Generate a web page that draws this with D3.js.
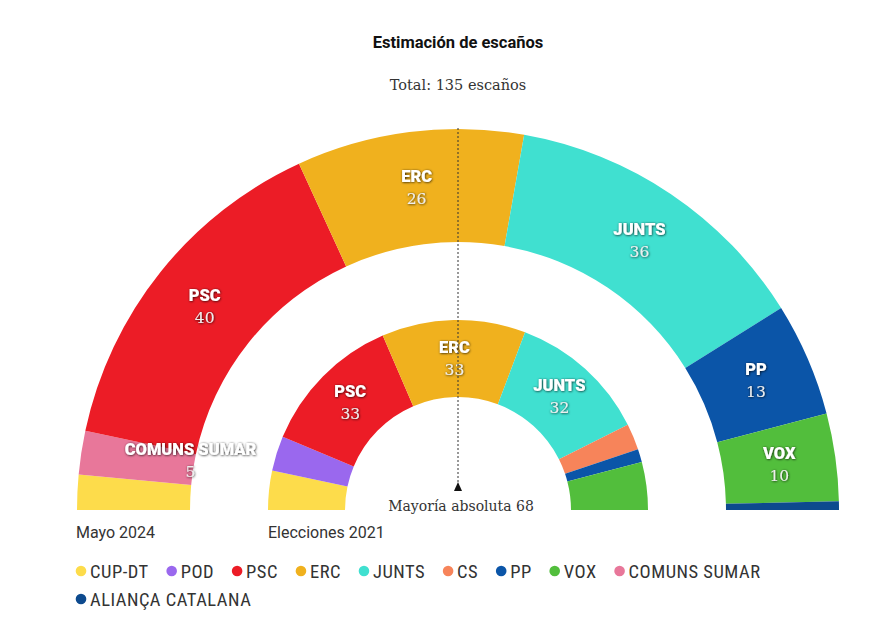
<!DOCTYPE html>
<html><head><meta charset="utf-8">
<script src="https://cdn.jsdelivr.net/npm/d3@7"></script>
<style>
body{margin:0;background:#fff;}
svg{display:block;}
</style></head>
<body>
<svg id="chart" width="887" height="620"></svg>
<script>
const parties = ["CUP-DT","POD","PSC","ERC","JUNTS","CS","PP","VOX","COMUNS SUMAR","ALIANÇA CATALANA"];
const partyColors = ["#FDDC4B","#9A68EE","#EC1C26","#F0B11E","#40E0D0","#F7845A","#0B55A8","#52BE3C","#E8779A","#0D4A8E"];
const order2024 = ["CUP-DT","COMUNS SUMAR","PSC","ERC","JUNTS","PP","VOX","ALIANÇA CATALANA"];
const seats2024 = [4,5,40,26,36,13,10,1];
const order2021 = ["CUP-DT","POD","PSC","ERC","JUNTS","CS","PP","VOX"];
const seats2021 = [9,8,33,33,32,6,3,11];
const totalSeats = 135;
const majority = 68;

const svg = d3.select("#chart");
const cx = 458, cy = 510;
const color = d3.scaleOrdinal().domain(parties).range(partyColors);

const defs = svg.append("defs");
const f = defs.append("filter").attr("id","sh").attr("x","-20%").attr("y","-40%").attr("width","140%").attr("height","180%");
f.append("feDropShadow").attr("dx",0.5).attr("dy",0.5).attr("stdDeviation",1.1).attr("flood-color","#000").attr("flood-opacity",0.85);

svg.append("text").attr("x",cx).attr("y",48).attr("text-anchor","middle")
  .attr("font-family","Roboto, 'DejaVu Sans', sans-serif").attr("font-weight","bold").attr("font-size",16.5)
  .attr("fill","#111").text("Estimación de escaños");
svg.append("text").attr("x",cx).attr("y",90).attr("text-anchor","middle")
  .attr("font-family","'DejaVu Serif', serif").attr("font-size",14.5)
  .attr("fill","#333").text(`Total: ${totalSeats} escaños`);

const pie = d3.pie().sort(null).value(d=>d.v).startAngle(-Math.PI/2).endAngle(Math.PI/2);

function drawHemi(names, vals, rIn, rOut, minLabel, smallAtInner){
  const data = names.map((n,i)=>({n, v: vals[i]}));
  const arcs = pie(data);
  const arc = d3.arc().innerRadius(rIn).outerRadius(rOut);
  const g = svg.append("g").attr("transform",`translate(${cx},${cy})`);
  g.selectAll("path").data(arcs).join("path")
    .attr("d",arc).attr("fill",d=>color(d.data.n));
  const lab = g.selectAll("g.lab").data(arcs.filter(d=>d.data.v>=minLabel)).join("g")
    .attr("transform",d=>{
      let c;
      if (d.data.v < smallAtInner){
        const a = (d.startAngle+d.endAngle)/2 + 0.03;
        const r = rIn + 4;
        c = [Math.sin(a)*r, -Math.cos(a)*r];
      } else c = arc.centroid(d);
      return `translate(${c[0]},${c[1]})`;
    });
  lab.append("text").attr("y",-6).attr("text-anchor","middle")
    .attr("font-family","Roboto, 'DejaVu Sans', sans-serif").attr("font-weight","900").attr("font-size",16.5)
    .attr("fill","#fff").attr("filter","url(#sh)").text(d=>d.data.n);
  lab.append("text").attr("y",16).attr("text-anchor","middle")
    .attr("font-family","'DejaVu Serif', serif").attr("font-size",15.5)
    .attr("fill","#eeeeee").attr("filter","url(#sh)").text(d=>d.data.v);
}

drawHemi(order2024, seats2024, 268, 381, 5, 8);
drawHemi(order2021, seats2021, 113, 190, 20, 0);

// majority line
svg.append("line").attr("x1",cx).attr("x2",cx).attr("y1",128).attr("y2",483)
  .attr("stroke","#333").attr("stroke-width",1).attr("stroke-dasharray","2,2");
svg.append("path").attr("d",`M${cx-4},${491}L${cx+4},${491}L${cx},${482}Z`).attr("fill","#111");
svg.append("text").attr("x",cx+3).attr("y",511).attr("text-anchor","middle")
  .attr("font-family","'DejaVu Serif', serif").attr("font-size",14)
  .attr("fill","#333").text(`Mayoría absoluta ${majority}`);

svg.append("text").attr("x",76).attr("y",538)
  .attr("font-family","Roboto, 'DejaVu Sans', sans-serif").attr("font-size",16)
  .attr("fill","#333").text("Mayo 2024");
svg.append("text").attr("x",268).attr("y",538)
  .attr("font-family","Roboto, 'DejaVu Sans', sans-serif").attr("font-size",16)
  .attr("fill","#333").text("Elecciones 2021");

// legend
const leg = svg.append("g");
let lx = 81, ly = 571;
const maxX = 800;
parties.forEach(p=>{
  const g = leg.append("g");
  g.append("circle").attr("r",5.3).attr("fill",color(p));
  const t = g.append("text").attr("x",9).attr("y",6.5)
    .attr("font-family","'Roboto Condensed', 'Liberation Sans Narrow', 'DejaVu Sans Condensed', sans-serif")
    .attr("font-size",18.5).attr("letter-spacing",0.5).attr("fill","#333").text(p);
  const w = t.node().getComputedTextLength();
  if (lx + 9 + w > maxX){ lx = 81; ly += 28; }
  g.attr("transform",`translate(${lx},${ly})`);
  lx += 9 + w + 23;
});
</script>
</body></html>
